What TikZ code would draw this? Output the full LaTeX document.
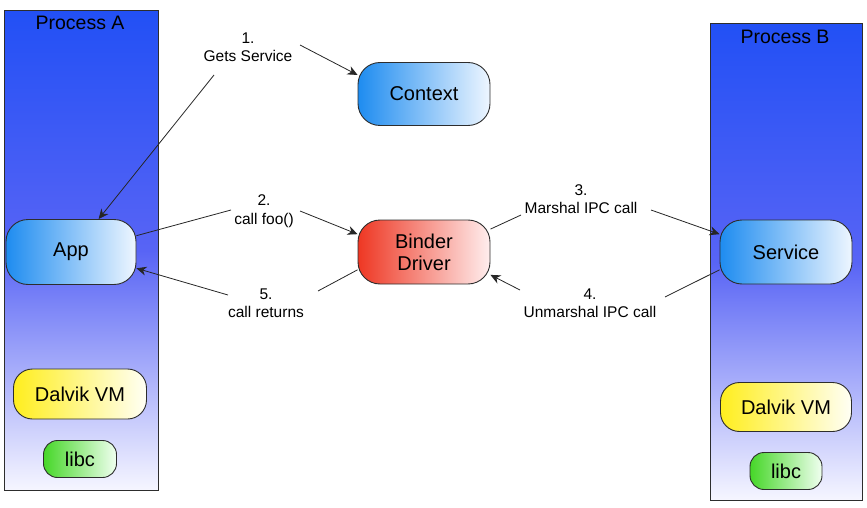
\documentclass[tikz,border=0pt]{standalone}
\usepackage{fontspec}
\setmainfont{Liberation Sans}
\usetikzlibrary{arrows.meta}
\definecolor{procTop}{RGB}{34,80,245}
\definecolor{procMid}{RGB}{88,100,245}
\definecolor{procBot}{RGB}{246,246,255}
\definecolor{blueL}{RGB}{30,140,240}
\definecolor{blueR}{RGB}{238,246,255}
\definecolor{redL}{RGB}{238,55,35}
\definecolor{redR}{RGB}{255,238,238}
\definecolor{yelL}{RGB}{255,238,30}
\definecolor{yelR}{RGB}{255,255,245}
\definecolor{grnL}{RGB}{70,215,40}
\definecolor{grnR}{RGB}{240,255,240}
\definecolor{edge}{RGB}{45,45,45}
\tikzset{
  proc/.style={draw=edge, line width=0.9pt, top color=procTop, bottom color=procBot, middle color=procMid, inner sep=0pt, anchor=north west},
  pill/.style={draw=edge, line width=0.9pt, rounded corners=22pt, minimum width=132pt, minimum height=63pt, inner sep=0pt, align=center, font=\fontsize{20}{23}\selectfont, shading angle=90},
  bluepill/.style={pill, left color=blueL, right color=blueR},
  redpill/.style={pill, left color=redL, right color=redR},
  dvm/.style={pill, left color=yelL, right color=yelR, minimum width=133pt, minimum height=50pt, rounded corners=19pt},
  libcpill/.style={pill, left color=grnL, right color=grnR, minimum width=73pt, minimum height=37pt, rounded corners=14pt},
  ptitle/.style={font=\fontsize{19.5}{22}\selectfont},
  lbl/.style={align=center, font=\fontsize{15.5}{18.5}\selectfont, inner sep=0pt},
  conn/.style={line width=0.8pt, draw=black!85},
  arr/.style={conn, -{Stealth[length=10pt,width=9pt]}}
}
\begin{document}
\begin{tikzpicture}[x=1pt,y=-1pt]
\useasboundingbox (0,0) rectangle (867,508);
% processes
\node[proc, minimum width=154pt, minimum height=480pt] (pa) at (4,10) {};
\node[proc, minimum width=152pt, minimum height=477pt] (pb) at (710,23) {};
\node[ptitle] (pat) at (80,23) {Process A};
\node[ptitle] (pbt) at (785,37) {Process B};
% nodes
\node[bluepill] (ctx) at (424,94) {Context};
\node[bluepill, minimum width=130pt, minimum height=65pt] (app) at (71,252) {App};
\node[redpill, minimum height=64pt] (bdr) at (424,252) {Binder\\[-1pt]Driver};
\node[bluepill, minimum height=64pt] (svc) at (786,252) {Service};
\node[dvm] (dva) at (80,394) {Dalvik VM};
\node[libcpill] (lca) at (80,459) {libc};
\node[dvm, minimum width=131pt, minimum height=49pt] (dvb) at (786,407) {Dalvik VM};
\node[libcpill, minimum width=72pt] (lcb) at (786,471) {libc};
% labels
\node[lbl] (l1) at (248,47) {1.\\Gets Service};
\node[lbl] (l2) at (264,211) {2.\\call foo()};
\node[lbl] (l3) at (581,199) {3.\\Marshal IPC call};
\node[lbl] (l4) at (590,303) {4.\\Unmarshal IPC call};
\node[lbl] (l5) at (266,303) {5.\\call returns};
% free ends
\coordinate (c1a) at (300,45);
\coordinate (c1b) at (214,75);
\coordinate (c2a) at (231,210);
\coordinate (c2b) at (300,211);
\coordinate (c3a) at (521,215);
\coordinate (c3b) at (651,210);
\coordinate (c4a) at (665,297);
\coordinate (c4b) at (520,290);
\coordinate (c5a) at (318,291);
\coordinate (c5b) at (228,295);
% connectors
\draw[arr] (c1a) -- (ctx.164);
\draw[arr] (c1b) -- (app.50);
\draw[conn] (app.14) -- (c2a);
\draw[arr] (c2b) -- (bdr.165);
\draw[conn] (bdr.19) -- (c3a);
\draw[arr] (c3b) -- (svc.165);
\draw[conn] (svc.195) -- (c4a);
\draw[arr] (c4b) -- (bdr.-19);
\draw[conn] (bdr.-165) -- (c5a);
\draw[arr] (c5b) -- (app.-14);
\end{tikzpicture}
\end{document}
